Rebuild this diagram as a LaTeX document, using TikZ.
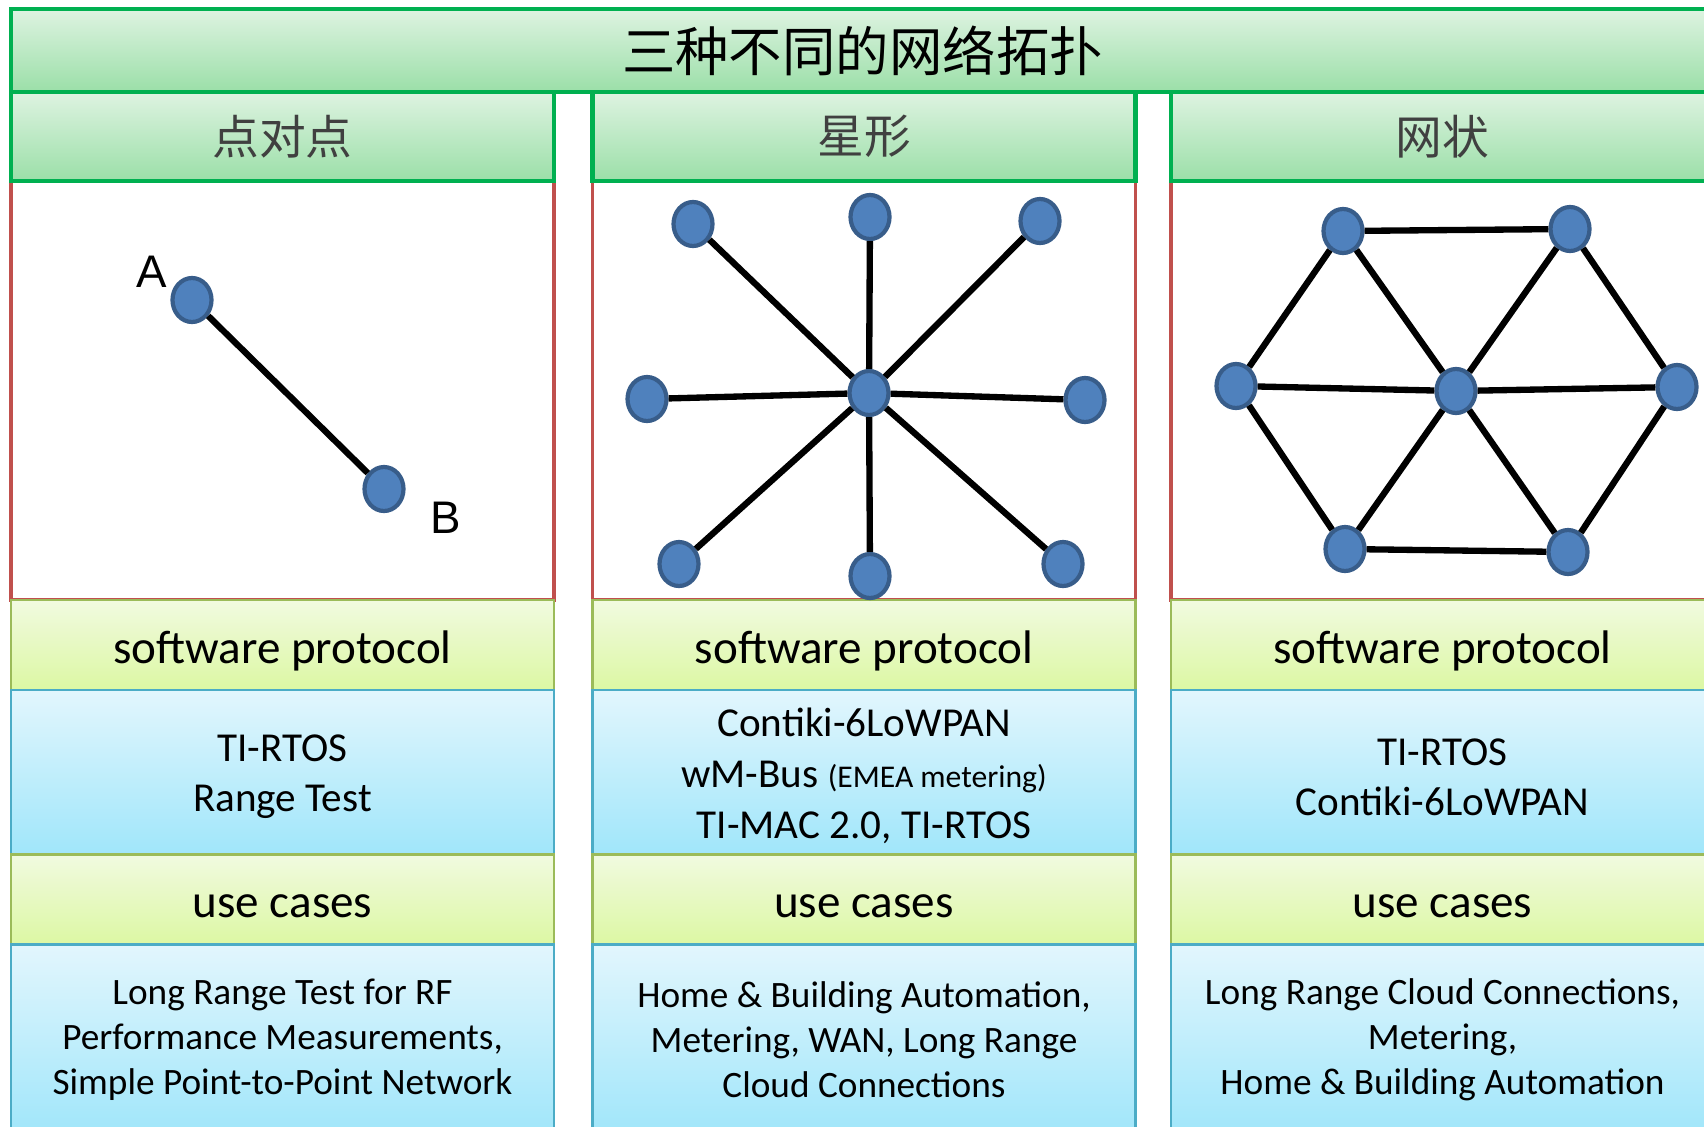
\documentclass[tikz,border=0pt]{standalone}
\usepackage{fontspec}
\setmainfont{Carlito}
\newfontfamily\cjk{Noto Sans CJK SC}
\newfontfamily\arial{Liberation Sans}
\usetikzlibrary{shapes.geometric}

\definecolor{titletop}{RGB}{222,243,225}
\definecolor{titlebot}{RGB}{155,223,168}
\definecolor{headgreen}{RGB}{0,176,80}
\definecolor{headtext}{RGB}{64,64,64}
\definecolor{graphred}{RGB}{192,80,77}
\definecolor{limetop}{RGB}{241,250,224}
\definecolor{limebot}{RGB}{220,248,163}
\definecolor{limeline}{RGB}{155,187,89}
\definecolor{skytop}{RGB}{226,246,253}
\definecolor{skybot}{RGB}{160,230,250}
\definecolor{skyline}{RGB}{75,172,198}
\definecolor{devfill}{RGB}{79,129,189}
\definecolor{devline}{RGB}{56,93,138}

\newcommand{\protstrut}{\rule{0pt}{10.2pt}}

\tikzset{
  titlebox/.style={draw=headgreen, line width=1.2pt, top color=titletop, bottom color=titlebot,
    minimum width=17.03cm, minimum height=0.83cm, inner sep=0pt,
    font=\cjk\fontsize{15.2}{18}\selectfont},
  headbox/.style={draw=headgreen, line width=1.2pt, top color=titletop, bottom color=titlebot,
    minimum width=5.43cm, minimum height=0.89cm, inner sep=0pt, text=headtext,
    font=\cjk\fontsize{13.3}{16}\selectfont},
  graphbox/.style={draw=graphred, line width=1.1pt, fill=white,
    minimum width=5.43cm, minimum height=4.19cm, inner sep=0pt},
  limebox/.style={draw=limeline, line width=0.6pt, top color=limetop, bottom color=limebot,
    minimum width=5.43cm, minimum height=0.90cm, inner sep=0pt,
    text height=10.3pt, text depth=0pt, font=\fontsize{13.4}{16}\selectfont},
  skybox/.style={draw=skyline, line width=0.6pt, top color=skytop, bottom color=skybot,
    minimum width=5.43cm, inner sep=0pt, align=center},
  protbox/.style={skybox, minimum height=1.65cm, font=\fontsize{11.7}{14.2}\selectfont},
  casebox/.style={skybox, minimum height=1.91cm, font=\fontsize{10.6}{12.8}\selectfont},
  dev/.style={ellipse, draw=devline, fill=devfill, line width=1.2pt,
    minimum width=0.39cm, minimum height=0.44cm, inner sep=0pt},
  link/.style={line width=1.8pt, black},
  endlabel/.style={font=\arial\fontsize{13}{15}\selectfont}
}

\begin{document}
\begin{tikzpicture}
\useasboundingbox (0,0) rectangle (17.04,-11.26);

% graph areas, headers and text boxes of the three columns
\foreach \c/\x/\name in {p2p/2.825/点对点, star/8.64/星形, mesh/14.425/网状}{
  \node[graphbox] (\c-graph) at (\x,-3.905) {};
  \node[headbox] (\c-head) at (\x,-1.365) {\name};
  \node[limebox] (\c-sw) at (\x,-6.45) {software protocol};
}
\node[protbox] (p2p-prot) at (2.825,-7.725) {\protstrut TI-RTOS\\Range Test};
\node[protbox, font=\fontsize{11.7}{14.5}\selectfont] (star-prot) at (8.64,-7.725)
  {\protstrut Contiki-6LoWPAN\\wM-Bus {\fontsize{9}{11}\selectfont(EMEA metering)}\\TI-MAC 2.0, TI-RTOS};
\node[protbox] (mesh-prot) at (14.425,-7.725) {\protstrut TI-RTOS\\Contiki-6LoWPAN};
\foreach \c/\x in {p2p/2.825, star/8.64, mesh/14.425}
  \node[limebox] (\c-uc) at (\x,-8.995) {use cases};
\node[casebox] (p2p-cases) at (2.825,-10.40)
  {Long Range Test for RF\\Performance Measurements,\\Simple Point-to-Point Network};
\node[casebox] (star-cases) at (8.64,-10.40)
  {Home \& Building Automation,\\Metering, WAN, Long Range\\Cloud Connections};
\node[casebox] (mesh-cases) at (14.425,-10.40)
  {Long Range Cloud Connections,\\Metering,\\Home \& Building Automation};

% title bar
\node[titlebox] (title) at (8.625,-0.505) {三种不同的网络拓扑};

% point to point
\node[dev] (a) at (1.92,-3.00) {};
\node[dev] (b) at (3.84,-4.89) {};
\draw[link] (a) -- (b);
\node[endlabel] (a-label) at (1.52,-2.72) {A};
\node[endlabel] (b-label) at (4.46,-5.18) {B};

% star
\node[dev] (s0) at (8.69,-3.93) {};
\foreach \n/\px/\py in {1/6.93/-2.24, 2/8.70/-2.17, 3/10.40/-2.21, 4/10.85/-4.00,
                        5/10.63/-5.64, 6/8.70/-5.76, 7/6.79/-5.64, 8/6.47/-3.99}{
  \node[dev] (s\n) at (\px,\py) {};
  \draw[link] (s0) -- (s\n);
}

% mesh
\node[dev] (m0) at (14.56,-3.91) {};
\foreach \n/\px/\py in {1/13.43/-2.31, 2/15.70/-2.29, 3/16.77/-3.87,
                        4/15.68/-5.52, 5/13.45/-5.49, 6/12.36/-3.86}{
  \node[dev] (m\n) at (\px,\py) {};
  \draw[link] (m0) -- (m\n);
}
\draw[link] (m1) -- (m2) (m2) -- (m3) (m3) -- (m4)
  (m4) -- (m5) (m5) -- (m6) (m6) -- (m1);
\end{tikzpicture}
\end{document}
